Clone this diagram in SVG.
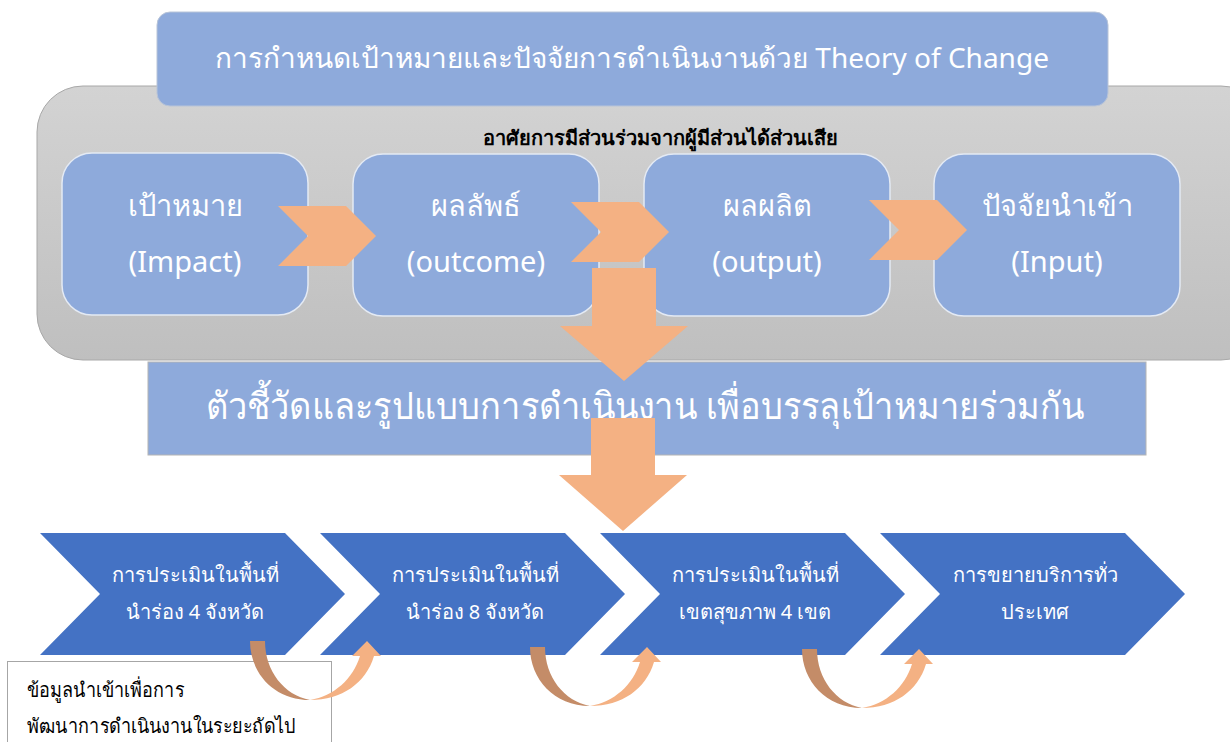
<svg xmlns="http://www.w3.org/2000/svg" width="1230" height="742" viewBox="0 0 1230 742">
<defs>
<linearGradient id="gray" x1="0" y1="0" x2="0" y2="1">
<stop offset="0" stop-color="#d3d3d3"/>
<stop offset="1" stop-color="#bfbfbf"/>
</linearGradient>
<g id="curve">
<path class="brown" d="M0,0 L15,0 C15,30 34,54 60,59 C24,59 0,32 0,0 Z"/>
<path class="orange" d="M60,59 C92,59 116,42 124,15 L131,15 L117,0 L102,15 L110,15 C103,38 84,55 60,59 Z"/>
</g>
</defs>
<style>
.t{font-family:"Noto Sans","DejaVu Sans",sans-serif;}
.w{fill:#ffffff;}
.lb{fill:#8eaadb;}
.box{fill:#8eaadb;stroke:#e4eaf4;stroke-width:1.5;}
.orange{fill:#f4b183;}
.brown{fill:#c48c68;}
.blue{fill:#4472c4;}
</style>
<rect width="1230" height="742" fill="#ffffff"/>
<g id="container">
<rect x="37" y="86" width="1230" height="274" rx="46" fill="url(#gray)" stroke="#a8a8a8" stroke-width="1"/>
<text class="t" x="660" y="145" font-size="20" font-weight="bold" text-anchor="middle" fill="#000000">อาศัยการมีส่วนร่วมจากผู้มีส่วนได้ส่วนเสีย</text>
</g>
<g id="header">
<rect x="157" y="12" width="951" height="94" rx="13" class="lb" stroke="#b8c4d8" stroke-width="1"/>
<text class="t w" x="632" y="68" font-size="28" text-anchor="middle">การกำหนดเป้าหมายและปัจจัยการดำเนินงานด้วย Theory of Change</text>
</g>
<g id="impact">
<rect x="62" y="153" width="246" height="162" rx="30" class="box"/>
<text class="t w" x="185" y="216" font-size="29" text-anchor="middle">เป้าหมาย</text>
<text class="t w" x="185" y="272" font-size="29" text-anchor="middle">(Impact)</text>
</g>
<g id="outcome">
<rect x="353" y="154" width="246" height="162" rx="30" class="box"/>
<text class="t w" x="476" y="216" font-size="29" text-anchor="middle">ผลลัพธ์</text>
<text class="t w" x="476" y="272" font-size="29" text-anchor="middle">(outcome)</text>
</g>
<g id="output">
<rect x="644" y="154" width="246" height="162" rx="30" class="box"/>
<text class="t w" x="767" y="216" font-size="29" text-anchor="middle">ผลผลิต</text>
<text class="t w" x="767" y="272" font-size="29" text-anchor="middle">(output)</text>
</g>
<g id="input">
<rect x="934" y="154" width="246" height="162" rx="30" class="box"/>
<text class="t w" x="1057" y="216" font-size="29" text-anchor="middle">ปัจจัยนำเข้า</text>
<text class="t w" x="1057" y="272" font-size="29" text-anchor="middle">(Input)</text>
</g>
<g id="indicators">
<rect x="148" y="362" width="998" height="93" class="lb" stroke="#b4b4b4" stroke-width="1"/>
<text class="t w" x="0" y="0" font-size="37" text-anchor="middle" transform="translate(645,419) scale(0.93,1)">ตัวชี้วัดและรูปแบบการดำเนินงาน เพื่อบรรลุเป้าหมายร่วมกัน</text>
</g>
<g id="step1">
<polygon class="blue" points="40,533 285,533 345,594 285,655 40,655 100,594"/>
<text class="t w" x="195" y="582" font-size="20" text-anchor="middle">การประเมินในพื้นที่</text>
<text class="t w" x="195" y="619" font-size="20" text-anchor="middle">นำร่อง 4 จังหวัด</text>
</g>
<g id="step2">
<polygon class="blue" points="320,533 565,533 625,594 565,655 320,655 380,594"/>
<text class="t w" x="475" y="582" font-size="20" text-anchor="middle">การประเมินในพื้นที่</text>
<text class="t w" x="475" y="619" font-size="20" text-anchor="middle">นำร่อง 8 จังหวัด</text>
</g>
<g id="step3">
<polygon class="blue" points="600,533 845,533 905,594 845,655 600,655 660,594"/>
<text class="t w" x="755" y="582" font-size="20" text-anchor="middle">การประเมินในพื้นที่</text>
<text class="t w" x="755" y="619" font-size="20" text-anchor="middle">เขตสุขภาพ 4 เขต</text>
</g>
<g id="step4">
<polygon class="blue" points="880,533 1125,533 1185,594 1125,655 880,655 940,594"/>
<text class="t w" x="1035" y="582" font-size="20" text-anchor="middle">การขยายบริการทั่ว</text>
<text class="t w" x="1035" y="619" font-size="20" text-anchor="middle">ประเทศ</text>
</g>
<g id="note">
<rect x="7.5" y="661.5" width="324" height="100" fill="#ffffff" stroke="#a6a6a6" stroke-width="1"/>
<text class="t" x="0" y="0" font-size="20" fill="#000000" transform="translate(27,697) scale(0.9,1)">ข้อมูลนำเข้าเพื่อการ</text>
<text class="t" x="0" y="0" font-size="20" fill="#000000" transform="translate(27,733) scale(0.9,1)">พัฒนาการดำเนินงานในระยะถัดไป</text>
</g>
<g id="connectors">
<polygon class="orange" points="278,206 346,206 376,236 346,266 278,266 308,236"/>
<polygon class="orange" points="571,202 639,202 669,232 639,262 571,262 601,232"/>
<polygon class="orange" points="869,200 937,200 967,230 937,260 869,260 899,230"/>
<polygon class="orange" points="592,268 656,268 656,326 688,326 624,381 560,326 592,326"/>
<polygon class="orange" points="591,418 655,418 655,475 687,475 623,531 559,475 591,475"/>
<use href="#curve" transform="translate(250,641)"/>
<use href="#curve" transform="translate(530,647)"/>
<use href="#curve" transform="translate(802,649)"/>
</g>
</svg>
